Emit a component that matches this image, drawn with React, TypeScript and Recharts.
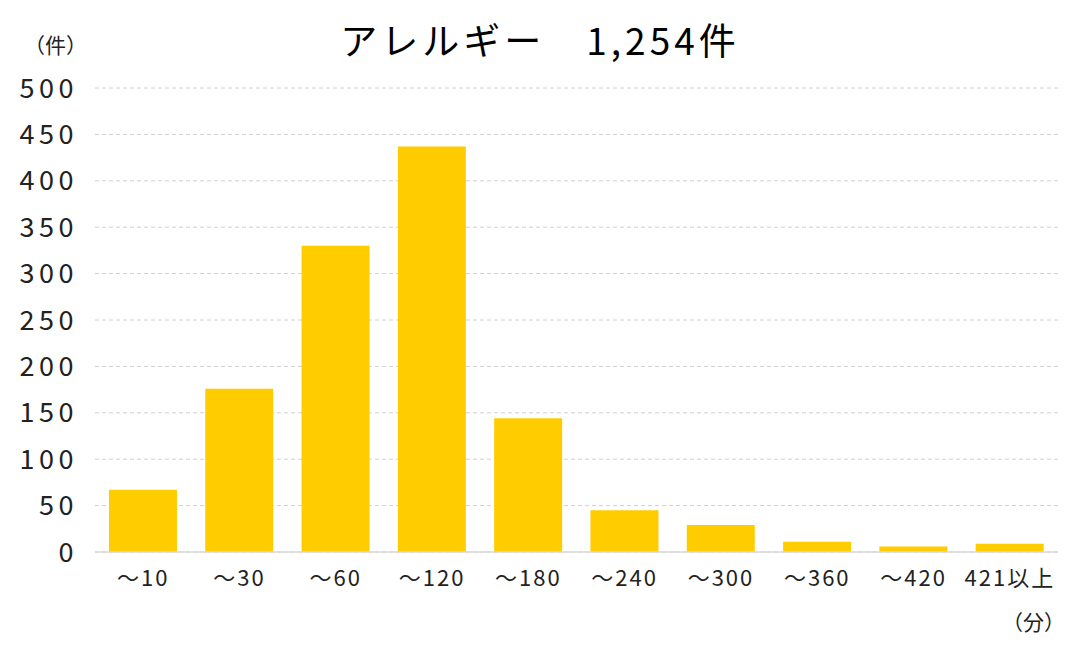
import React from "react";
import { BarChart, Bar, XAxis, YAxis, CartesianGrid } from "recharts";

const categories = ["～10", "～30", "～60", "～120", "～180", "～240", "～300", "～360", "～420", "421以上"];
const counts = [67, 176, 330, 437, 144, 45, 29, 11, 6, 9];
const yTicks = [0, 50, 100, 150, 200, 250, 300, 350, 400, 450, 500];
const title = "アレルギー　1,254件";
const yUnit = "（件）";
const xUnit = "（分）";

const data = categories.map((c, i) => ({ name: c, value: counts[i] }));
const FONT = '"Noto Sans CJK JP", "Noto Sans", sans-serif';

export default function App() {
  return (
    <div style={{ position: "absolute", left: 0, top: 0, width: 1080, height: 670, background: "#fff", fontFamily: FONT }}>
      <BarChart width={1080} height={670} data={data} margin={{ top: 88, right: 22, bottom: 88, left: 0 }} barCategoryGap="14.5%">
        <CartesianGrid vertical={false} stroke="#d0d0d0" strokeDasharray="4 3" />
        <XAxis
          dataKey="name"
          height={30}
          tickLine={false}
          axisLine={{ stroke: "#d9d9d9", strokeWidth: 1.5 }}
          tickSize={0}
          tickMargin={18}
          tick={{ fill: "#222", fontSize: 22, fontFamily: FONT, letterSpacing: 2 }}
          interval={0}
        />
        <YAxis
          width={95}
          domain={[0, 500]}
          ticks={yTicks}
          tickLine={false}
          axisLine={false}
          tickSize={0}
          tickMargin={17}
          tick={{ fill: "#222", fontSize: 27, fontFamily: FONT, letterSpacing: 4.5 }}
          interval={0}
        />
        <Bar dataKey="value" fill="#FFCC00" isAnimationActive={false} />
      </BarChart>
      <div style={{ position: "absolute", left: 0, width: 1080, top: 14, textAlign: "center", fontSize: 37, color: "#000", lineHeight: "50px", letterSpacing: 4 }}>{title}</div>
      <div style={{ position: "absolute", left: 24, top: 30, fontSize: 21, color: "#222", lineHeight: "28px" }}>{yUnit}</div>
      <div style={{ position: "absolute", left: 1002, top: 607, fontSize: 21, color: "#222", lineHeight: "28px" }}>{xUnit}</div>
    </div>
  );
}
